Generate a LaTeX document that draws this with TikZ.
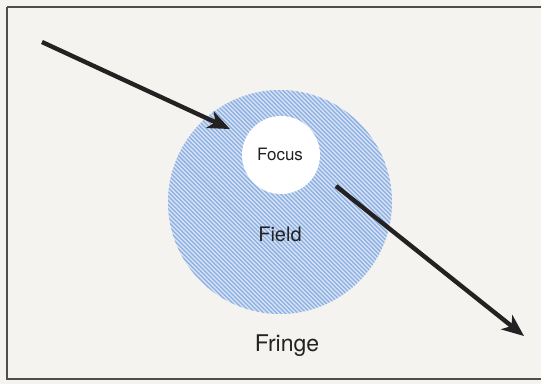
\documentclass[tikz,border=0pt]{standalone}
\usepackage{fontspec}
\setmainfont{TeX Gyre Heros}
\usetikzlibrary{arrows.meta}
\definecolor{paper}{RGB}{244,243,239}
\definecolor{fieldfill}{RGB}{214,226,244}
\definecolor{fieldline}{RGB}{140,175,226}
\definecolor{ink}{RGB}{35,33,33}
\tikzset{
  bigarrow/.style={draw=ink,line width=4.4pt,-{Stealth[length=22pt,width=18pt,inset=6pt]}},
  lbl/.style={text=ink,inner sep=0pt,anchor=base}
}
\begin{document}
\begin{tikzpicture}[x=1pt,y=-1pt]
\useasboundingbox (0,0) rectangle (541,384);
\fill[paper] (0,0) rectangle (541,384);
\draw[ink!80,line width=1.4pt] (7,7) -- (541,7);
\draw[ink!80,line width=1.4pt] (7,7) -- (7,379) -- (541,379);
% field
\node[circle,minimum size=224pt,inner sep=0pt,fill=fieldfill] (field) at (280,202) {};
\begin{scope}
  \clip (280,202) circle (112);
  \foreach \k in {-60,...,60} {
    \draw[fieldline,line width=1.25pt] ({280+\k*4.24-130},{202-130}) -- ++(260,260);
  }
\end{scope}
% focus
\node[circle,minimum size=78pt,inner sep=0pt,fill=white] (focus) at (281,155) {};
\node[lbl,font=\fontsize{17}{17}\selectfont] (focustxt) at (280,160) {Focus};
\node[lbl,font=\fontsize{20}{20}\selectfont] (fieldtxt) at (280,241.5) {Field};
\node[lbl,font=\fontsize{23}{23}\selectfont] (fringetxt) at (287,351.5) {Fringe};
% arrows
\coordinate (a1s) at (42,42);
\coordinate (a1e) at (230,129);
\coordinate (a2s) at (336,186);
\coordinate (a2e) at (524,336);
\draw[bigarrow] (a1s) -- (a1e);
\draw[bigarrow] (a2s) -- (a2e);
\end{tikzpicture}
\end{document}
